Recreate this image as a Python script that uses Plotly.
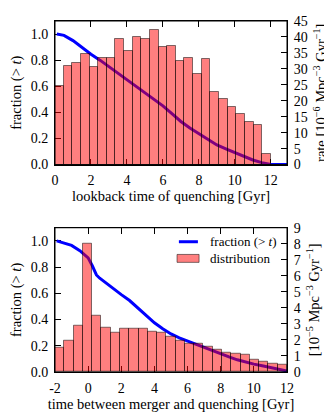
import numpy as np
import plotly.graph_objects as go

# top panel: lookback time of quenching
top_bin_start = 0.0
top_bin_width = 0.48
top_rate = [24.5, 30.8, 31.7, 34.6, 30.6, 33.4, 33.3, 39.5, 35.5, 40.0, 39.4, 42.2, 36.8,
            37.2, 32.6, 33.4, 28.3, 33.2, 22.7, 20.7, 18.0, 15.9, 13.4, 12.3, 3.4]
top_frac_t = [0.1, 0.5, 1.0, 1.5, 2.0, 2.5, 3.0, 3.5, 4.0, 4.5, 5.0, 5.5, 6.0, 6.5, 7.0,
              7.5, 8.0, 8.5, 9.0, 9.5, 10.0, 10.5, 11.0, 11.5, 12.0, 12.9]
top_frac = [1.0, 0.99, 0.95, 0.895, 0.845, 0.80, 0.75, 0.70, 0.65, 0.60, 0.55, 0.50, 0.45,
            0.39, 0.33, 0.28, 0.235, 0.19, 0.15, 0.12, 0.09, 0.06, 0.035, 0.015, 0.0, 0.0]

# bottom panel: time between merger and quenching
bot_bin_start = -2.0
bot_bin_width = 0.56
bot_rate = [1.54, 1.96, 2.90, 8.0, 3.50, 2.76, 2.42, 2.67, 2.67, 2.67, 2.51, 2.45, 2.20,
            1.96, 1.78, 1.78, 1.58, 1.42, 1.23, 1.16, 1.06, 0.74, 0.61, 0.54, 0.43]
bot_frac_t = [-1.9, -1.5, -1.0, -0.5, -0.34, 0.0, 0.25, 0.5, 0.7, 1.0, 1.5, 2.0, 2.5, 3.0,
              3.5, 4.0, 4.5, 5.0, 5.5, 6.0, 6.5, 7.0, 7.5, 8.0, 8.5, 9.0, 9.5, 10.0, 10.5,
              11.0, 11.5, 12.0]
bot_frac = [1.0, 0.985, 0.965, 0.925, 0.907, 0.87, 0.81, 0.74, 0.715, 0.685, 0.635, 0.59,
            0.545, 0.49, 0.43, 0.375, 0.33, 0.29, 0.26, 0.235, 0.21, 0.187, 0.16, 0.14,
            0.115, 0.093, 0.075, 0.06, 0.047, 0.033, 0.02, 0.008]

top_xticks = [0, 2, 4, 6, 8, 10, 12]
bot_xticks = [-2, 0, 2, 4, 6, 8, 10, 12]
bot_xticklabels = ["-2", "0", "2", "4", "6", "8", "10", "12"]
legend_labels = ["fraction (> <i>t</i>)", "distribution"]

top_centers = top_bin_start + top_bin_width * (np.arange(len(top_rate)) + 0.5)
bot_centers = bot_bin_start + bot_bin_width * (np.arange(len(bot_rate)) + 0.5)

FONT = "Liberation Serif"
RED = "rgba(255,0,0,0.5)"
EDGE = "rgba(0,0,0,0.5)"
bar_style = dict(color=RED, line=dict(color=EDGE, width=1))

fig = go.Figure()
fig.add_trace(go.Scatter(x=top_frac_t, y=top_frac, mode="lines", xaxis="x", yaxis="y",
                         line=dict(color="blue", width=3), showlegend=False))
fig.add_trace(go.Bar(x=top_centers, y=top_rate, width=top_bin_width, xaxis="x", yaxis="y2",
                     marker=bar_style, showlegend=False))
fig.add_trace(go.Scatter(x=bot_frac_t, y=bot_frac, mode="lines", xaxis="x2", yaxis="y3",
                         line=dict(color="blue", width=3), showlegend=False))
fig.add_trace(go.Bar(x=bot_centers, y=bot_rate, width=bot_bin_width, xaxis="x2", yaxis="y4",
                     marker=bar_style, showlegend=False))

ax_common = dict(ticks="inside", ticklen=6, tickwidth=1, tickcolor="black", showgrid=False,
                 zeroline=False, showline=True, linecolor="black", linewidth=1,
                 automargin=False,
                 tickfont=dict(family=FONT, size=14, color="black"), ticklabelstandoff=3)
title_font = dict(family=FONT, size=14.5, color="black")

# the page body adds an 8px offset, so the figure is 8px smaller than the window
fig.update_layout(
    width=324, height=406,
    margin=dict(l=47, r=45, t=13, b=42),
    paper_bgcolor="white", plot_bgcolor="white",
    barmode="overlay", bargap=0, showlegend=False,
    font=dict(family=FONT, size=13, color="black"),
    xaxis=dict(ax_common, domain=[0, 1], anchor="y", range=[0, 12.9], tickvals=top_xticks,
               mirror="ticks", layer="below traces",
               title=dict(text="lookback time of quenching [Gyr]", font=title_font, standoff=2)),
    yaxis=dict(ax_common, domain=[0.591, 1], anchor="x", range=[0, 1.1], dtick=0.2,
               tickformat=".1f", layer="below traces",
               title=dict(text="fraction (> <i>t</i>)", font=title_font, standoff=6)),
    yaxis2=dict(ax_common, overlaying="y", side="right", anchor="x", range=[0, 45], dtick=5,
                title=dict(text="rate [10<sup>−6</sup> Mpc<sup>−3</sup> Gyr<sup>−1</sup>]",
                           font=title_font, standoff=9)),
    xaxis2=dict(ax_common, domain=[0, 1], anchor="y3", range=[-2, 12], tickvals=bot_xticks,
                ticktext=bot_xticklabels, mirror="ticks", layer="below traces",
                title=dict(text="time between merger and quenching [Gyr]", font=title_font,
                           standoff=2)),
    yaxis3=dict(ax_common, domain=[0, 0.411], anchor="x2", range=[0, 1.1], dtick=0.2,
                tickformat=".1f", layer="below traces",
                title=dict(text="fraction (> <i>t</i>)", font=title_font, standoff=6)),
    yaxis4=dict(ax_common, overlaying="y3", side="right", anchor="x2", range=[0, 9], dtick=1,
                title=dict(text="[10<sup>−5</sup> Mpc<sup>−3</sup> Gyr<sup>−1</sup>]",
                           font=title_font, standoff=9)),
)

# black frame drawn above the bars
for xr, yr in [("x domain", "y domain"), ("x2 domain", "y3 domain")]:
    fig.add_shape(type="rect", xref=xr, yref=yr, x0=0, x1=1, y0=0, y1=1,
                  line=dict(color="black", width=1), layer="above")

# legend of the lower panel, drawn by hand so the keys match matplotlib's shapes
fig.add_shape(type="line", xref="x2 domain", yref="y3 domain", x0=0.534, x1=0.616,
              y0=0.903, y1=0.903, line=dict(color="blue", width=3))
fig.add_shape(type="rect", xref="x2 domain", yref="y3 domain", x0=0.526, x1=0.621,
              y0=0.76, y1=0.815, fillcolor=RED, line=dict(color=EDGE, width=1))
for label, ypos in zip(legend_labels, [0.903, 0.787]):
    fig.add_annotation(text=label, xref="x2 domain", yref="y3 domain", x=0.658, y=ypos,
                       xanchor="left", yanchor="middle", showarrow=False,
                       font=dict(family=FONT, size=13, color="black"))

fig.write_html("out.html")
